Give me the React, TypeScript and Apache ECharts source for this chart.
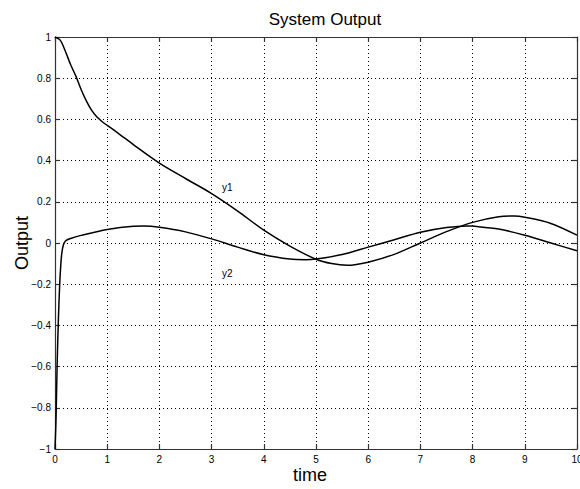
import React, { useEffect, useRef } from "react";
import * as echarts from "echarts";

const timeY1 = [0, 0.1, 0.2, 0.3, 0.4, 0.5, 0.6, 0.7, 0.8, 0.9, 1.0, 1.2, 1.5, 2.0, 2.5, 3.0, 3.5, 4.0, 4.5, 5.0, 5.3, 5.6, 6.0, 6.5, 7.0, 7.5, 8.0, 8.5, 8.8, 9.0, 9.5, 10];
const valuesY1 = [1.0, 0.985, 0.93, 0.865, 0.81, 0.745, 0.69, 0.645, 0.613, 0.59, 0.571, 0.535, 0.478, 0.388, 0.313, 0.24, 0.155, 0.062, -0.015, -0.079, -0.1, -0.108, -0.093, -0.055, 0.0, 0.055, 0.1, 0.127, 0.131, 0.125, 0.095, 0.038];

const timeY2 = [0, 0.02, 0.04, 0.065, 0.09, 0.11, 0.13, 0.16, 0.2, 0.3, 0.5, 1.0, 1.5, 1.7, 2.0, 2.5, 3.0, 3.5, 4.0, 4.5, 4.8, 5.0, 5.5, 6.0, 6.5, 7.0, 7.5, 7.9, 8.0, 8.5, 9.0, 9.5, 10];
const valuesY2 = [-1.0, -0.85, -0.6, -0.37, -0.2, -0.11, -0.05, -0.01, 0.01, 0.022, 0.037, 0.066, 0.081, 0.082, 0.076, 0.054, 0.02, -0.02, -0.057, -0.078, -0.081, -0.078, -0.056, -0.02, 0.016, 0.052, 0.075, 0.083, 0.082, 0.068, 0.038, 0.0, -0.038];

const labelY1 = { text: "y1", coord: [3.3, 0.27] };
const labelY2 = { text: "y2", coord: [3.3, -0.15] };

const FONT = "'Liberation Sans', Arial, Helvetica, sans-serif";

export default function App() {
  const ref = useRef<HTMLDivElement>(null);
  useEffect(() => {
    if (!ref.current) return;
    const chart = echarts.init(ref.current, null, { renderer: "svg" });
    const fmtY = (v: number) => Number(v.toFixed(1)).toString().replace("-", "\u2212");
    const axisLine = { show: true, onZero: false, lineStyle: { color: "#333", width: 1.2 } };
    const splitLine = { show: true, lineStyle: { color: "#000", type: [1, 3] as any, width: 1 } };
    const tick = { show: true, inside: true, length: 5, lineStyle: { color: "#333", width: 1.2 } };
    const zip = (t: number[], v: number[]) => t.map((x, i) => [x, v[i]]);
    const mk = (l: { text: string; coord: number[] }) => ({
      symbol: "circle",
      symbolSize: 1,
      itemStyle: { color: "rgba(0,0,0,0)" },
      data: [{ coord: l.coord, label: { show: true, formatter: l.text, position: "inside", color: "#000", fontSize: 10, fontFamily: FONT } }],
    });
    chart.setOption({
      animation: false,
      backgroundColor: "#fff",
      title: {
        text: "System Output",
        left: 320,
        textAlign: "center",
        top: 6,
        textStyle: { fontFamily: FONT, fontSize: 17, fontWeight: "normal", color: "#000" },
      },
      grid: { left: 55, right: 3, top: 37, bottom: 40, containLabel: false, outerBoundsMode: "none" },
      xAxis: [
        {
          type: "value", min: 0, max: 10, interval: 1, position: "bottom",
          axisLine, axisTick: tick, splitLine,
          axisLabel: { color: "#000", fontSize: 10, fontFamily: FONT, margin: 5 },
          name: "time", nameLocation: "middle", nameGap: 17, nameMoveOverlap: false,
          nameTextStyle: { fontFamily: FONT, fontSize: 18, color: "#000", padding: [0, 12, 0, 0] },
        },
        {
          type: "value", min: 0, max: 10, interval: 1, position: "top",
          axisLine, axisTick: tick, splitLine: { show: false }, axisLabel: { show: false },
        },
      ],
      yAxis: [
        {
          type: "value", min: -1, max: 1, interval: 0.2, position: "left",
          axisLine, axisTick: tick, splitLine,
          axisLabel: { color: "#000", fontSize: 10, fontFamily: FONT, margin: 4, formatter: fmtY },
          name: "Output", nameLocation: "middle", nameGap: 24, nameMoveOverlap: false,
          nameTextStyle: { fontFamily: FONT, fontSize: 18, color: "#000" },
        },
        {
          type: "value", min: -1, max: 1, interval: 0.2, position: "right",
          axisLine, axisTick: tick, splitLine: { show: false }, axisLabel: { show: false },
        },
      ],
      series: [
        {
          type: "line", name: "y1", data: zip(timeY1, valuesY1), showSymbol: false, smooth: 0.3,
          lineStyle: { color: "#000", width: 1.5 }, markPoint: mk(labelY1),
        },
        {
          type: "line", name: "y2", data: zip(timeY2, valuesY2), showSymbol: false, smooth: 0.3,
          lineStyle: { color: "#000", width: 1.5 }, markPoint: mk(labelY2),
        },
      ],
    });
    return () => chart.dispose();
  }, []);
  return <div ref={ref} style={{ position: "fixed", left: 0, top: 0, width: 580, height: 489 }} />;
}
